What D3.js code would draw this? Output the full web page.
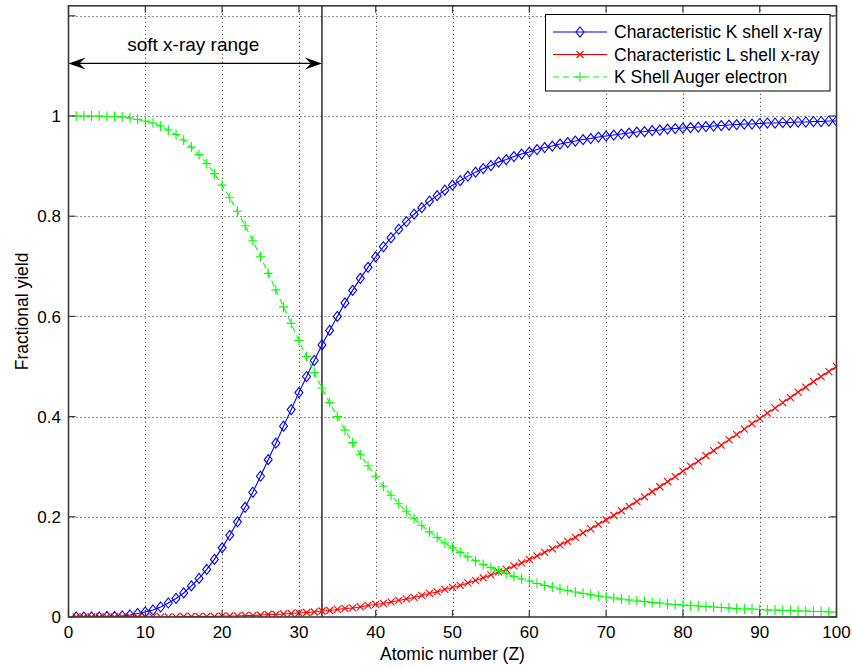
<!DOCTYPE html>
<html><head><meta charset="utf-8">
<script src="https://cdn.jsdelivr.net/npm/d3@7"></script>
<style>
html,body{margin:0;padding:0;background:#fff;}
svg{display:block;font-family:"Liberation Sans",Arial,Helvetica,sans-serif;}
</style></head>
<body>
<svg id="chart" width="853" height="668"></svg>
<script>
// ---- data ----
const atomicNumber = d3.range(1, 101);
const kShellXray = [
0.000,0.000,0.000,0.000,0.001,0.001,0.002,0.004,0.007,0.010,
0.014,0.020,0.028,0.037,0.048,0.062,0.077,0.095,0.115,0.138,
0.163,0.190,0.219,0.249,0.281,0.314,0.347,0.381,0.414,0.448,
0.480,0.512,0.543,0.572,0.600,0.627,0.652,0.676,0.698,0.719,
0.739,0.757,0.774,0.789,0.804,0.817,0.830,0.841,0.852,0.862,
0.871,0.880,0.888,0.895,0.901,0.908,0.913,0.919,0.924,0.928,
0.933,0.937,0.940,0.944,0.947,0.950,0.953,0.955,0.958,0.960,
0.962,0.964,0.966,0.968,0.969,0.971,0.972,0.974,0.975,0.976,
0.977,0.978,0.979,0.980,0.981,0.982,0.983,0.984,0.984,0.985,
0.986,0.986,0.987,0.987,0.988,0.988,0.989,0.989,0.990,0.990];
const lShellXray = [
0.000,0.000,0.000,0.000,0.000,0.000,0.000,0.000,0.000,0.000,
0.000,0.000,0.000,0.000,0.001,0.001,0.001,0.001,0.001,0.002,
0.002,0.002,0.003,0.003,0.004,0.005,0.005,0.006,0.007,0.008,
0.009,0.010,0.012,0.013,0.015,0.017,0.018,0.020,0.023,0.025,
0.027,0.030,0.033,0.036,0.039,0.043,0.047,0.050,0.055,0.059,
0.063,0.068,0.073,0.078,0.084,0.090,0.095,0.102,0.108,0.115,
0.122,0.129,0.136,0.144,0.151,0.159,0.168,0.176,0.185,0.194,
0.203,0.212,0.221,0.231,0.240,0.250,0.260,0.270,0.280,0.291,
0.301,0.311,0.322,0.332,0.343,0.354,0.364,0.375,0.386,0.396,
0.407,0.417,0.428,0.438,0.449,0.459,0.470,0.480,0.490,0.500];
const kAugerElectron = [
1.000,1.000,1.000,1.000,0.999,0.999,0.998,0.996,0.993,0.990,
0.986,0.980,0.972,0.963,0.952,0.938,0.923,0.905,0.885,0.862,
0.837,0.810,0.781,0.751,0.719,0.686,0.653,0.619,0.586,0.552,
0.520,0.488,0.457,0.428,0.400,0.373,0.348,0.324,0.302,0.281,
0.261,0.243,0.226,0.211,0.196,0.183,0.170,0.159,0.148,0.138,
0.129,0.120,0.112,0.105,0.099,0.092,0.087,0.081,0.076,0.072,
0.067,0.063,0.060,0.056,0.053,0.050,0.047,0.045,0.042,0.040,
0.038,0.036,0.034,0.032,0.031,0.029,0.028,0.026,0.025,0.024,
0.023,0.022,0.021,0.020,0.019,0.018,0.017,0.016,0.016,0.015,
0.014,0.014,0.013,0.013,0.012,0.012,0.011,0.011,0.010,0.010];
const seriesNames = ["Characteristic K shell x-ray","Characteristic L shell x-ray","K Shell Auger electron"];
const xTicks = [0,10,20,30,40,50,60,70,80,90,100];
const yTicks = [0,0.2,0.4,0.6,0.8,1,1.2];
const yTickLabels = ["0","0.2","0.4","0.6","0.8","1",""];
const xDomain = [0,100];
const yDomain = [0,1.22];
const softXrayLimit = 33;      // Z of the vertical line
const softArrowY = 1.105;      // level of the double arrow
const softLabel = "soft x-ray range";
const xLabel = "Atomic number (Z)";
const yLabel = "Fractional yield";

// ---- layout ----
const svg = d3.select("#chart");
const L = 68.5, R = 836.5, T = 5.8, B = 617;
const x = d3.scaleLinear().domain(xDomain).range([L, R]);
const y = d3.scaleLinear().domain(yDomain).range([B, T]);
const axisCol = "#3a3a3a";

svg.append("defs").append("clipPath").attr("id","plotclip")
  .append("rect").attr("x",L).attr("y",T).attr("width",R-L).attr("height",B-T);

// grid
const grid = svg.append("g").attr("stroke","#000").attr("stroke-width",1)
  .attr("stroke-dasharray","1,3").attr("opacity",0.85);
grid.selectAll(".gx").data(xTicks.filter(d=>d>0&&d<100)).join("line")
  .attr("x1",d=>Math.round(x(d))+0.5).attr("x2",d=>Math.round(x(d))+0.5).attr("y1",T).attr("y2",B);
grid.selectAll(".gy").data(yTicks.filter(d=>d>0)).join("line")
  .attr("y1",d=>Math.round(y(d))+0.5).attr("y2",d=>Math.round(y(d))+0.5).attr("x1",L).attr("x2",R);

// vertical line at soft x-ray limit
svg.append("line").attr("x1",x(softXrayLimit)).attr("x2",x(softXrayLimit))
  .attr("y1",T).attr("y2",B).attr("stroke","#333").attr("stroke-width",1.6);

// series
const plot = svg.append("g").attr("clip-path","url(#plotclip)");
const mk = (vals)=>atomicNumber.map((z,i)=>({z, v: vals[i]}));
const lineGen = d3.line().x(d=>x(d.z)).y(d=>y(d.v));
const diamond = "M0,-5L4,0L0,5L-4,0Z";
const cross = "M-3.5,-3.5L3.5,3.5M-3.5,3.5L3.5,-3.5";
const plus = "M-4.5,0L4.5,0M0,-5L0,5";
const series = [
  {vals:kShellXray, color:"#0000ff", dash:null, marker:diamond},
  {vals:lShellXray, color:"#ff0000", dash:null, marker:cross},
  {vals:kAugerElectron, color:"#00ff00", dash:"6,4", marker:plus}
];
series.forEach(s=>{
  const data = mk(s.vals);
  plot.append("path").datum(data).attr("d",lineGen).attr("fill","none")
    .attr("stroke",s.color).attr("stroke-width",1.1).attr("stroke-dasharray",s.dash);
  plot.append("g").selectAll("path").data(data).join("path")
    .attr("transform",d=>`translate(${x(d.z)},${y(d.v)})`)
    .attr("d",s.marker).attr("fill","none").attr("stroke",s.color).attr("stroke-width",1.1);
});

// axes box
svg.append("rect").attr("x",L).attr("y",T).attr("width",R-L).attr("height",B-T)
  .attr("fill","none").attr("stroke",axisCol).attr("stroke-width",1.6);
// ticks (inward, all sides)
const tk = svg.append("g").attr("stroke",axisCol).attr("stroke-width",1.2);
xTicks.forEach(d=>{
  tk.append("line").attr("x1",x(d)).attr("x2",x(d)).attr("y1",B).attr("y2",B-7);
  tk.append("line").attr("x1",x(d)).attr("x2",x(d)).attr("y1",T).attr("y2",T+7);
});
yTicks.forEach(d=>{
  tk.append("line").attr("y1",y(d)).attr("y2",y(d)).attr("x1",L).attr("x2",L+7);
  tk.append("line").attr("y1",y(d)).attr("y2",y(d)).attr("x1",R).attr("x2",R-7);
});
// tick labels
svg.append("g").selectAll("text").data(xTicks).join("text")
  .attr("x",d=>x(d)).attr("y",638).attr("text-anchor","middle")
  .attr("font-size",17).attr("fill","#000").text(d=>d);
svg.append("g").selectAll("text").data(yTicks).join("text")
  .attr("x",61).attr("y",d=>y(d)).attr("dy","0.36em").attr("text-anchor","end")
  .attr("font-size",17).attr("fill","#000").text((d,i)=>yTickLabels[i]);
// axis labels
svg.append("text").attr("x",(L+R)/2).attr("y",660).attr("text-anchor","middle")
  .attr("font-size",17.5).text(xLabel);
svg.append("text").attr("transform",`translate(28,${(T+B)/2}) rotate(-90)`)
  .attr("text-anchor","middle").attr("font-size",17.5).text(yLabel);

// double arrow
const ay = y(softArrowY), ax1 = x(0), ax2 = x(softXrayLimit);
svg.append("line").attr("x1",ax1+8).attr("x2",ax2-8).attr("y1",ay).attr("y2",ay)
  .attr("stroke","#000").attr("stroke-width",1.2);
const head = (tx,dir)=>`M${tx},${ay}L${tx+dir*17},${ay-6}L${tx+dir*11},${ay}L${tx+dir*17},${ay+6}Z`;
svg.append("path").attr("d",head(ax1,1)).attr("fill","#000");
svg.append("path").attr("d",head(ax2,-1)).attr("fill","#000");
svg.append("text").attr("x",(ax1+ax2)/2-2).attr("y",50.5).attr("text-anchor","middle")
  .attr("font-size",19).text(softLabel);

// legend
const lg = svg.append("g");
lg.append("rect").attr("x",545.5).attr("y",14.5).attr("width",284.5).attr("height",76.5)
  .attr("fill","#fff").attr("stroke","#000").attr("stroke-width",1);
const rows = [32, 54.5, 77];
series.forEach((s,i)=>{
  const yy = rows[i];
  lg.append("line").attr("x1",553).attr("x2",607).attr("y1",yy).attr("y2",yy)
    .attr("stroke",s.color).attr("stroke-width",1.1).attr("stroke-dasharray",s.dash);
  lg.append("path").attr("transform",`translate(580,${yy})`).attr("d",s.marker)
    .attr("fill","none").attr("stroke",s.color).attr("stroke-width",1.1);
  lg.append("text").attr("x",614).attr("y",yy).attr("dy","0.36em")
    .attr("font-size",17.5).text(seriesNames[i]);
});
</script>
</body></html>
